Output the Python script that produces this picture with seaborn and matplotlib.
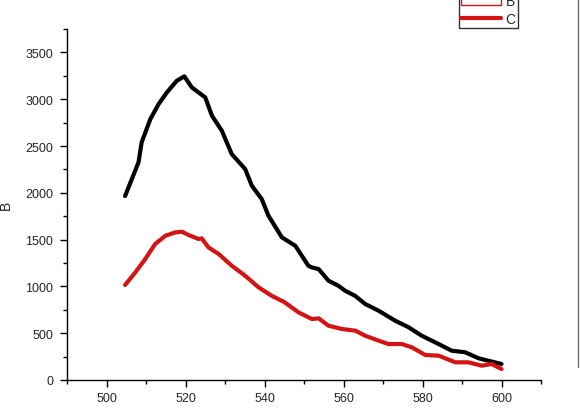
import numpy as np
import pandas as pd
import seaborn as sns
import matplotlib.pyplot as plt
from matplotlib.lines import Line2D
from matplotlib.patches import Patch
from matplotlib.ticker import MultipleLocator

# Curva negra
wl_negro = [504.7, 508.1, 508.9, 511.1, 513.2, 515.3, 517.8, 519.7, 521.6, 525.0,
            526.7, 529.2, 531.7, 535.1, 536.8, 539.3, 541.0, 544.4, 547.8, 551.1,
            551.9, 553.7, 556.2, 558.7, 560.4, 562.9, 565.5, 568.9, 573.1, 576.5,
            579.8, 584.1, 587.4, 590.8, 594.2, 600.0]
int_negro = [1965, 2325, 2539, 2788, 2948, 3073, 3197, 3244, 3126, 3019,
             2823, 2663, 2414, 2254, 2075, 1933, 1755, 1524, 1434, 1221,
             1204, 1185, 1061, 1007, 954, 900, 812, 740, 633, 563,
             473, 384, 313, 296, 232, 171]

# Curva roja (C)
wl_rojo = [504.7, 507.3, 509.8, 512.3, 514.9, 517.4, 519.1, 520.8, 523.3, 524.1,
           525.8, 528.4, 531.7, 535.1, 538.5, 541.8, 545.0, 548.6, 552.0, 553.7,
           556.2, 559.6, 563.0, 565.5, 568.9, 571.4, 574.8, 577.3, 580.7, 584.1,
           588.3, 591.6, 595.0, 597.5, 600.0]
int_rojo = [1015, 1150, 1292, 1452, 1541, 1577, 1584, 1549, 1506, 1513,
            1417, 1346, 1221, 1114, 990, 900, 833, 723, 651, 659,
            580, 545, 527, 473, 420, 384, 384, 349, 267, 260,
            189, 189, 153, 171, 117]

etiquetas_leyenda = ["B", "C"]

sns.set_style("ticks")
plt.rcParams['font.family'] = ['Liberation Sans', 'DejaVu Sans']
plt.rcParams['xtick.direction'] = 'out'
plt.rcParams['ytick.direction'] = 'out'

fig = plt.figure(figsize=(5.8, 4.14), dpi=100)
ax = fig.add_axes([67 / 580, 33 / 414, 474 / 580, 351 / 414])

rojo = '#d41414'
sns.lineplot(x=wl_negro, y=int_negro, color='black', lw=3, ax=ax)
sns.lineplot(x=wl_rojo, y=int_rojo, color=rojo, lw=3, ax=ax)

ax.set_xlim(490, 610)
ax.set_ylim(0, 3750)
ax.xaxis.set_major_locator(MultipleLocator(20))
ax.xaxis.set_minor_locator(MultipleLocator(10))
ax.yaxis.set_major_locator(MultipleLocator(500))
ax.yaxis.set_minor_locator(MultipleLocator(250))
ax.tick_params(which='major', length=5, width=1, labelsize=9, color='black', pad=4)
ax.tick_params(axis='y', which='major', pad=5)
ax.tick_params(which='minor', length=3, width=1, color='black')
ax.set_ylabel("B", fontsize=10, labelpad=9)
ax.set_xlabel("")
sns.despine(ax=ax)
for s in ['left', 'bottom']:
    ax.spines[s].set_color('black')
    ax.spines[s].set_linewidth(1)

# Leyenda recortada en la parte superior
manejadores = [Patch(facecolor='white', edgecolor=rojo, lw=1),
               Line2D([0], [0], color=rojo, lw=3)]
leg = fig.legend(manejadores, etiquetas_leyenda, loc='lower left',
                 bbox_to_anchor=(459 / 580, 385 / 414), fontsize=10,
                 frameon=True, fancybox=False, handlelength=2.9,
                 handletextpad=0.3, labelspacing=0.25, borderpad=0.15,
                 borderaxespad=0)
leg.get_frame().set_edgecolor('black')
leg.get_frame().set_linewidth(1)

# Línea gris vertical a la derecha
fig.add_artist(Line2D([578 / 580, 578 / 580], [46 / 414, 1], color='#707070',
                      lw=1, transform=fig.transFigure))

fig.savefig("out.png", dpi=100)
